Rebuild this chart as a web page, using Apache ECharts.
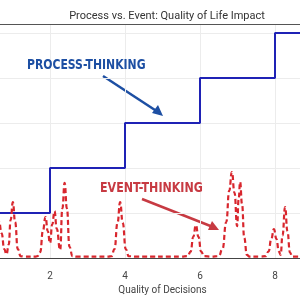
<!DOCTYPE html>
<html>
<head>
<meta charset="utf-8">
<script src="https://cdn.jsdelivr.net/npm/echarts@6/dist/echarts.min.js"></script>
<style>
  html, body { margin: 0; padding: 0; background: #fff; }
  #container { width: 300px; height: 300px; }
</style>
</head>
<body>
<div id="container"></div>
<script>
// Datos
var processX = [0, 2, 4, 6, 8, 10];
var processY = [1, 2, 3, 4, 5, 5];

var eventX = [0, 0.43, 0.50, 0.57, 0.64, 0.71, 0.78, 0.84, 0.90, 0.95, 1.01, 1.07, 1.14, 1.22, 1.3, 1.6,
  1.66, 1.74, 1.81, 1.88, 1.94, 2.0, 2.06, 2.12, 2.18, 2.27, 2.33, 2.39, 2.45, 2.52, 2.6, 2.7, 3.55,
  3.64, 3.72, 3.80, 3.87, 3.94, 4.02, 4.1, 4.3, 5.5,
  5.67, 5.75, 5.82, 5.89, 5.96, 6.03, 6.11, 6.3,
  6.5, 6.6, 6.7, 6.78, 6.85, 6.92, 6.99, 7.03, 7.07, 7.12, 7.18, 7.25, 7.32, 7.6,
  7.75, 7.83, 7.9, 7.97, 8.04, 8.1, 8.15, 8.2, 8.27, 8.33, 8.4, 8.46, 10];
var eventY = [0.03, 0.04, 0.14, 0.52, 0.81, 0.55, 0.2, 0.08, 0.3, 0.85, 1.24, 0.8, 0.2, 0.04, 0.03, 0.03,
  0.04, 0.13, 0.6, 0.91, 0.6, 0.33, 0.75, 1.04, 0.65, 0.18, 1.1, 1.67, 1.1, 0.25, 0.04, 0.03, 0.03,
  0.04, 0.2, 0.78, 1.24, 0.78, 0.2, 0.04, 0.03, 0.03,
  0.04, 0.14, 0.47, 0.73, 0.47, 0.14, 0.04, 0.03,
  0.04, 0.2, 0.8, 1.5, 1.91, 1.45, 0.71, 1.3, 1.69, 1.2, 0.45, 0.07, 0.03, 0.03,
  0.04, 0.15, 0.42, 0.64, 0.42, 0.15, 0.07, 0.5, 1.13, 0.6, 0.12, 0.03, 0.03];

var xTicks = [0, 2, 4, 6, 8, 10];

document.addEventListener('DOMContentLoaded', function () {
    var dom = document.getElementById('container');
    var myChart = echarts.init(dom);

    var processData = processX.map(function (x, i) { return [x, processY[i]]; });
    var eventData = eventX.map(function (x, i) { return [x, eventY[i]]; });

    var labelFont = 'bold 14px "DejaVu Sans Condensed", sans-serif';

    var option = {
        animation: false,
        title: {
            text: 'Process vs. Event: Quality of Life Impact',
            left: 162,
            textAlign: 'center',
            top: 6,
            textStyle: { fontFamily: 'Roboto', fontSize: 11, fontWeight: 'normal', color: '#333' }
        },
        grid: { left: -25, right: -50, top: 24, bottom: 42, outerBoundsMode: 'none', containLabel: false },
        xAxis: [{
            type: 'value',
            min: xTicks[0],
            max: xTicks[xTicks.length - 1],
            interval: 2,
            name: 'Quality of Decisions',
            nameLocation: 'middle',
            nameGap: 27,
            nameTextStyle: { fontFamily: 'Roboto', fontSize: 10, color: '#444' },
            axisLine: { show: true, lineStyle: { color: '#444', width: 1.2 } },
            axisTick: { show: false },
            axisLabel: { fontFamily: 'Roboto', fontSize: 10, color: '#444', margin: 13 },
            splitLine: { show: true, lineStyle: { color: '#ececec' } }
        }, {
            type: 'value',
            position: 'top',
            min: 0, max: 10,
            axisLine: { show: true, onZero: false, lineStyle: { color: '#555', width: 1.2 } },
            axisTick: { show: false },
            axisLabel: { show: false },
            splitLine: { show: false }
        }],
        yAxis: {
            type: 'value',
            min: 0,
            max: 5.2,
            interval: 1,
            axisLine: { show: false },
            axisTick: { show: false },
            axisLabel: { show: false },
            splitLine: { show: true, lineStyle: { color: '#ececec' } }
        },
        series: [
            {
                type: 'line',
                data: processData,
                step: 'end',
                symbol: 'none',
                lineStyle: { color: '#1f22b5', width: 2 }
            },
            {
                type: 'line',
                data: eventData,
                smooth: 0.5,
                smoothMonotone: 'x',
                symbol: 'none',
                lineStyle: { color: '#d8262d', width: 2.2, type: [5, 3] }
            }
        ],
        graphic: [
            {
                type: 'text', x: 27, y: 58, scaleX: 0.86, z: 10,
                style: { text: 'PROCESS-THINKING', fill: '#1d4fa3', font: labelFont }
            },
            {
                type: 'line', shape: { x1: 103, y1: 76, x2: 158, y2: 112 },
                style: { stroke: '#1d4fa3', lineWidth: 2.5 }
            },
            {
                type: 'polygon', shape: { points: [[163, 116], [152, 113], [158, 105]] },
                style: { fill: '#1d4fa3' }
            },
            {
                type: 'text', x: 100, y: 181, scaleX: 0.88, z: 10,
                style: { text: 'EVENT-THINKING', fill: '#c73a42', font: labelFont }
            },
            {
                type: 'line', shape: { x1: 142, y1: 199, x2: 213, y2: 227 },
                style: { stroke: '#c73a42', lineWidth: 2.5 }
            },
            {
                type: 'polygon', shape: { points: [[219, 230], [208, 230], [212, 221]] },
                style: { fill: '#c73a42' }
            }
        ]
    };

    myChart.setOption(option);
    window.addEventListener('resize', myChart.resize);
});
</script>
</body>
</html>
